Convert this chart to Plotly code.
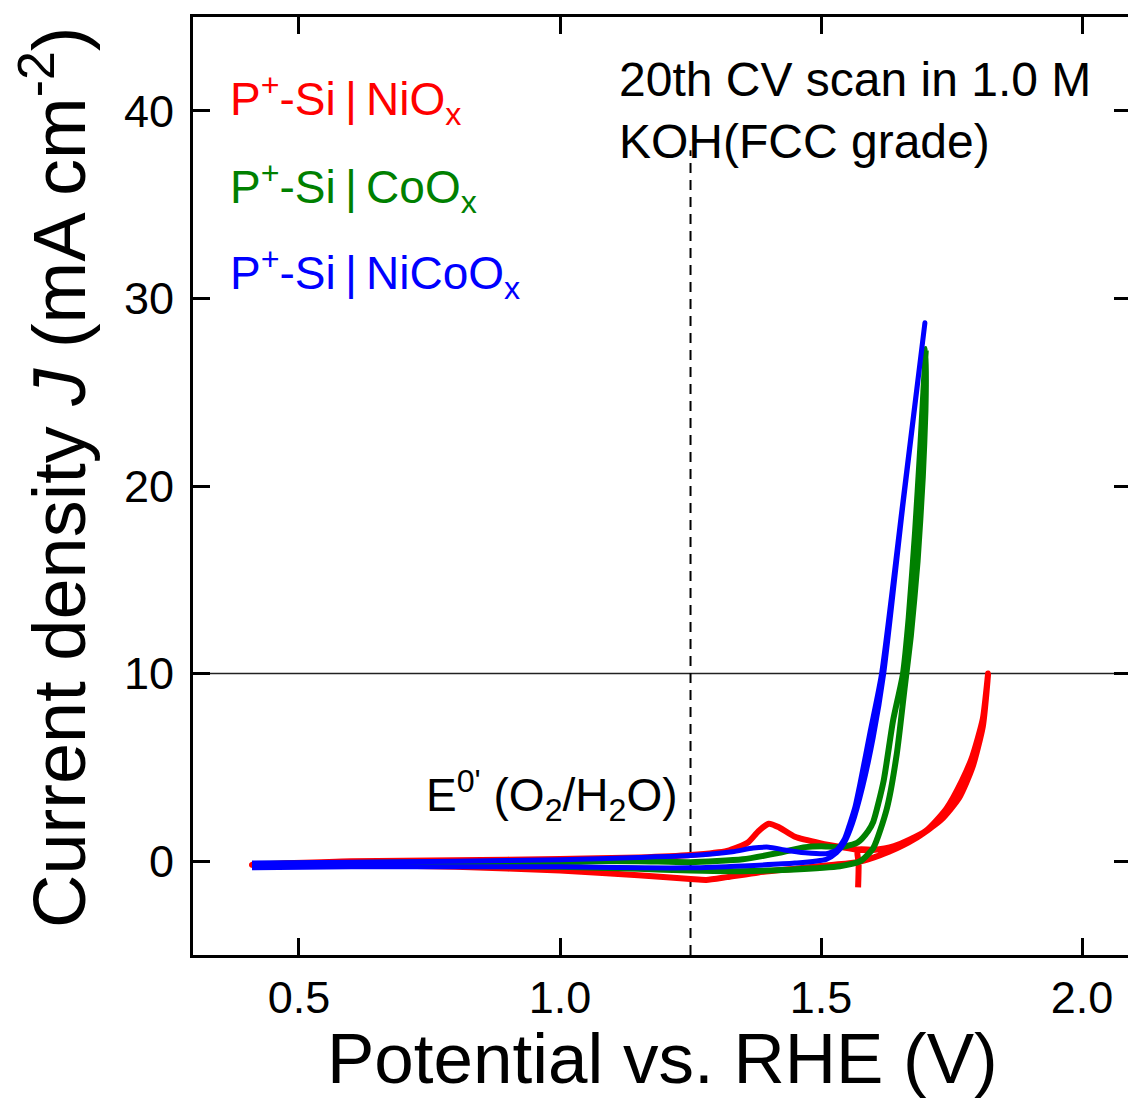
import plotly.graph_objects as go

# ---------------- data ----------------
# P+-Si | NiOx (red): initial step, anodic scan, cathodic scan
red_start_v = [1.571, 1.572]
red_start_j = [-1.4, -0.1]
red_fwd_v = [0.41, 0.60, 0.80, 1.00, 1.15, 1.25, 1.32, 1.36, 1.38, 1.40, 1.42, 1.45,
             1.50, 1.54, 1.57, 1.60, 1.64, 1.70, 1.74, 1.77, 1.79, 1.81, 1.82]
red_fwd_j = [-0.05, 0.00, 0.05, 0.12, 0.20, 0.33, 0.55, 1.00, 1.60, 2.00, 1.80, 1.30,
             0.95, 0.75, 0.62, 0.60, 0.80, 1.60, 2.80, 4.30, 5.60, 7.60, 10.0]
red_rev_v = [1.82, 1.81, 1.79, 1.765, 1.73, 1.68, 1.63, 1.59, 1.57, 1.52, 1.45, 1.38,
             1.32, 1.28, 1.25, 1.15, 1.00, 0.80, 0.60, 0.41]
red_rev_j = [10.0, 7.2, 5.0, 3.4, 2.2, 1.2, 0.5, 0.1, -0.05, -0.2, -0.4, -0.6,
             -0.85, -1.0, -0.95, -0.75, -0.5, -0.3, -0.2, -0.2]

# P+-Si | CoOx (green)
green_fwd_v = [0.41, 0.60, 0.80, 1.00, 1.15, 1.25, 1.35, 1.42, 1.47, 1.50, 1.54, 1.57,
               1.59, 1.60, 1.62, 1.638, 1.657, 1.668, 1.68, 1.69, 1.696, 1.701]
green_fwd_j = [-0.15, -0.10, -0.05, 0.00, 0.00, -0.05, 0.10, 0.45, 0.75, 0.80, 0.75, 1.00,
               1.60, 2.10, 4.30, 7.50, 10.0, 13.0, 17.5, 22.0, 25.0, 27.3]
green_rev_v = [1.701, 1.700, 1.695, 1.685, 1.672, 1.660, 1.645, 1.626, 1.600, 1.575,
               1.536, 1.44, 1.345, 1.25, 1.15, 1.00, 0.80, 0.60, 0.41]
green_rev_j = [27.3, 24.0, 20.5, 16.0, 12.0, 9.2, 5.7, 2.8, 0.7, 0.0,
               -0.27, -0.45, -0.53, -0.5, -0.4, -0.3, -0.25, -0.2, -0.2]

# P+-Si | NiCoOx (blue)
blue_fwd_v = [0.41, 0.60, 0.80, 1.00, 1.15, 1.25, 1.33, 1.37, 1.40, 1.43, 1.47, 1.51,
              1.53, 1.545, 1.555, 1.565, 1.575, 1.594, 1.616, 1.657, 1.699]
blue_fwd_j = [-0.10, -0.05, 0.00, 0.08, 0.20, 0.30, 0.50, 0.70, 0.75, 0.60, 0.45, 0.40,
              0.60, 1.20, 2.00, 2.90, 4.20, 6.90, 10.0, 19.2, 28.7]
blue_rev_v = [1.699, 1.657, 1.620, 1.600, 1.580, 1.560, 1.545, 1.530, 1.510, 1.45,
              1.35, 1.25, 1.15, 1.00, 0.80, 0.60, 0.41]
blue_rev_j = [28.7, 19.0, 10.0, 6.6, 4.0, 2.0, 1.0, 0.45, 0.10, -0.10,
              -0.25, -0.35, -0.35, -0.30, -0.30, -0.30, -0.35]

x_ticks = [0.5, 1.0, 1.5, 2.0]
x_tick_labels = ["0.5", "1.0", "1.5", "2.0"]
y_ticks = [0, 10, 20, 30, 40]
y_tick_labels = ["0", "10", "20", "30", "40"]

ref_current = 10          # horizontal reference line (mA cm-2)
e0_potential = 1.25       # dashed E0' line position
e0_line_top = 37.9

x_range = [0.297, 2.088]
y_range = [-5, 45]

FONT = "Liberation Sans, Arial, Helvetica, sans-serif"
RED, GREEN, BLUE = "#FF0000", "#008000", "#0000FF"

fig = go.Figure()

# reference lines
fig.add_trace(go.Scatter(x=x_range, y=[ref_current, ref_current], mode="lines",
                         line=dict(color="#222222", width=1.5), hoverinfo="skip",
                         showlegend=False))
fig.add_trace(go.Scatter(x=[e0_potential, e0_potential], y=[y_range[0], e0_line_top],
                         mode="lines", line=dict(color="black", width=2, dash="10px,7px"),
                         hoverinfo="skip", showlegend=False))

# CV curves
red_v = red_start_v + red_fwd_v[14:] + red_rev_v[1:] + red_fwd_v[1:]
red_j = red_start_j + red_fwd_j[14:] + red_rev_j[1:] + red_fwd_j[1:]
fig.add_trace(go.Scatter(x=red_v, y=red_j, mode="lines",
                         line=dict(color=RED, width=6, shape="spline", smoothing=0.6),
                         showlegend=False))
green_v = green_fwd_v + green_rev_v[1:]
green_j = green_fwd_j + green_rev_j[1:]
fig.add_trace(go.Scatter(x=green_v, y=green_j, mode="lines",
                         line=dict(color=GREEN, width=6, shape="spline", smoothing=0.6),
                         showlegend=False))
blue_v = blue_fwd_v + blue_rev_v[1:]
blue_j = blue_fwd_j + blue_rev_j[1:]
fig.add_trace(go.Scatter(x=blue_v, y=blue_j, mode="lines",
                         line=dict(color=BLUE, width=5, shape="spline", smoothing=0.6),
                         showlegend=False))

# right-side ticks (no right frame line visible in the reference)
fig.add_trace(go.Scatter(x=[None], y=[None], yaxis="y2", showlegend=False))

axis_common = dict(showgrid=False, zeroline=False, ticks="inside", ticklen=17, tickwidth=3,
                   tickcolor="black", linecolor="black", linewidth=3,
                   tickfont=dict(family=FONT, size=45, color="black"))

fig.update_layout(
    width=1128, height=1114,
    margin=dict(l=193, r=0, t=17, b=159),
    paper_bgcolor="white", plot_bgcolor="white",
    xaxis=dict(range=x_range, tickvals=x_ticks, ticktext=x_tick_labels, showline=True,
               mirror="ticks", ticklabelstandoff=1, **axis_common),
    yaxis=dict(range=y_range, tickvals=y_ticks, ticktext=y_tick_labels, showline=True,
               mirror=False, ticklabelstandoff=7, **axis_common),
    yaxis2=dict(range=y_range, tickvals=y_ticks, overlaying="y", side="right",
                showticklabels=False, showgrid=False, zeroline=False, showline=False,
                ticks="inside", ticklen=14, tickwidth=3, tickcolor="black"),
    showlegend=False,
)


def px_to_paper_x(px):
    return (px - 193) / (1128 - 193)


def px_to_paper_y(py):
    return (955 - py) / (955 - 17)


ann = []
ann.append(dict(text="Potential vs. RHE (V)", x=px_to_paper_x(662), y=px_to_paper_y(1058),
                xref="paper", yref="paper", showarrow=False, xanchor="center", yanchor="middle",
                font=dict(family=FONT, size=71, color="black")))
ann.append(dict(text="Current density <i>J</i> (mA cm<sup>-2</sup>)", x=px_to_paper_x(54),
                y=px_to_paper_y(478), xref="paper", yref="paper", showarrow=False,
                textangle=-90, xanchor="center", yanchor="middle",
                font=dict(family=FONT, size=74, color="black")))
legend_items = [
    ("P<sup>+</sup>-Si\u2009|\u2009NiO<sub>x</sub>", RED, 100),
    ("P<sup>+</sup>-Si\u2009|\u2009CoO<sub>x</sub>", GREEN, 187),
    ("P<sup>+</sup>-Si\u2009|\u2009NiCoO<sub>x</sub>", BLUE, 274),
]
for txt, col, py in legend_items:
    ann.append(dict(text=txt, x=px_to_paper_x(228), y=px_to_paper_y(py), xref="paper",
                    yref="paper", showarrow=False, xanchor="left", yanchor="middle",
                    font=dict(family=FONT, size=46, color=col)))
ann.append(dict(text="20th CV scan in 1.0 M<br>KOH(FCC grade)", x=px_to_paper_x(617),
                y=px_to_paper_y(110), xref="paper", yref="paper", showarrow=False,
                xanchor="left", yanchor="middle", align="left",
                font=dict(family=FONT, size=48, color="black")))
ann.append(dict(text="E<sup>0'</sup> (O<sub>2</sub>/H<sub>2</sub>O)", x=px_to_paper_x(680),
                y=px_to_paper_y(795), xref="paper", yref="paper", showarrow=False,
                xanchor="right", yanchor="middle",
                font=dict(family=FONT, size=46, color="black")))
fig.update_layout(annotations=ann)

fig.write_html("out.html", config={"displayModeBar": False},
               post_script="document.body.style.margin='0';document.body.style.overflow='hidden';")
